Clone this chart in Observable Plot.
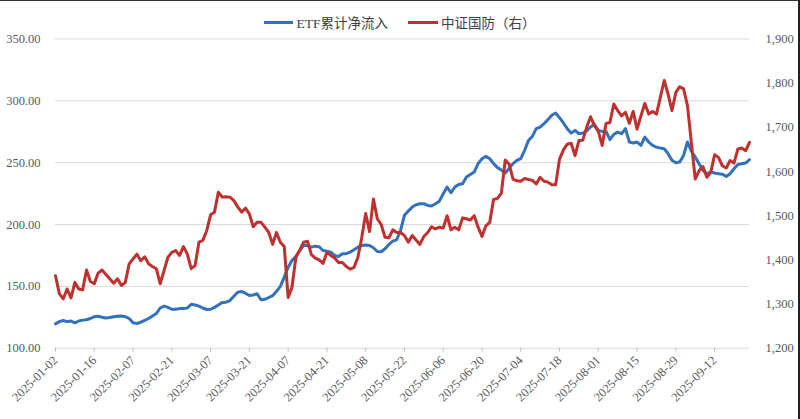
<!DOCTYPE html>
<html>
<head>
<meta charset="utf-8">
<script src="https://cdn.jsdelivr.net/npm/d3@7"></script>
<script src="https://cdn.jsdelivr.net/npm/@observablehq/plot@0.6"></script>
<style>
  html, body { margin: 0; padding: 0; background: #fff; }
  #wrap { position: relative; width: 800px; height: 419px; overflow: hidden; background: #fff; }
  #legend { height: 30px; display: flex; justify-content: center; align-items: flex-end; font-family: "Liberation Serif", "Noto Sans CJK SC", serif; font-size: 13.5px; color: #404040; }
  .item { display: flex; align-items: center; height: 16px; }
  .swatch { display: inline-block; height: 3px; }
  #border { position: absolute; left: 0; top: 0; width: 800px; height: 419px; box-sizing: border-box; border-top: 1px solid #333; border-right: 2px solid #222; pointer-events: none; }
</style>
</head>
<body>
<div id="wrap">
  <div id="legend"></div>
  <div id="chart"></div>
  <div id="border"></div>
</div>
<script>
// Series names and colours
const seriesNames = ["ETF累计净流入", "中证国防（右）"];
const seriesColors = ["#3371BD", "#C0302F"];

// X-axis tick labels (every 10th trading day)
const xTickLabels = ["2025-01-02","2025-01-16","2025-02-07","2025-02-21","2025-03-07","2025-03-21","2025-04-07","2025-04-21","2025-05-08","2025-05-22","2025-06-06","2025-06-20","2025-07-04","2025-07-18","2025-08-01","2025-08-15","2025-08-29","2025-09-12"];

// Axis ticks
const leftTicks = [100, 150, 200, 250, 300, 350];
const rightTicks = [1200, 1300, 1400, 1500, 1600, 1700, 1800, 1900];

// ETF cumulative net inflow (left axis), one value per trading day
const etfFlow = [
  119.7,121.5,122.4,121.5,122,120.5,122,122.7,123,124,
  125.5,125.8,125,124.4,124.8,125.4,125.8,126,125.5,124,
  120.5,120,121,122.5,124,126,128,132.5,134,133,
  131.5,131.5,132,132,132.5,135.5,135,134,132.5,131.3,
  131.5,133,135,137,137.2,138.5,142,145.3,145.8,144.5,
  142.6,143,144,139.2,139.5,141,142.5,146,150,157.4,
  165.5,171,174.2,179,183.1,183,181.7,182.5,182,179,
  178.5,177.7,175,174.2,176.4,176.4,177.7,179.6,181.7,183,
  183.5,183,181.2,178.2,178,180.4,183.9,186.6,187.7,195.2,
  207.4,210.9,214.1,216,216.8,216.8,215.4,215,216.8,218.9,
  224.9,230.3,225.7,230.3,232.4,232.9,238.4,240.5,242.4,249.2,
  253.2,255.1,253.2,249.2,246,244,241.6,245.4,249.2,251.8,
  253.2,260,268,271.3,277.5,278.8,281.5,284.8,288.3,290.1,
  286.4,282.1,277.5,273.9,276.1,273.4,273.9,275.6,278.8,281,
  276.1,275.3,275.3,268.6,272.9,274.8,273.4,277.5,266.7,265.9,
  266.7,264,270.7,266.7,264,262.6,261.8,261.3,257.3,251.9,
  250,250.5,255.9,266.7,259.4,254.5,249.2,243.8,241.1,242.4,
  241.6,241.1,240.6,238.9,241.1,245.1,248.6,249.2,249.7,252.4
];

// CSI Defense index (right axis)
const defenseIndex = [
  1364,1323,1312,1334,1314,1349,1334,1332,1377,1351,
  1346,1370,1377,1367,1357,1347,1357,1342,1349,1391,
  1402,1413,1398,1407,1391,1385,1380,1346,1376,1406,
  1417,1421,1410,1430,1413,1380,1387,1440,1444,1466,
  1502,1508,1553,1542,1543,1542,1534,1520,1508,1517,
  1504,1475,1485,1485,1474,1462,1435,1462,1440,1430,
  1315,1338,1406,1422,1440,1442,1412,1404,1400,1392,
  1417,1410,1404,1394,1394,1385,1379,1383,1406,1451,
  1505,1464,1538,1493,1480,1451,1450,1468,1462,1462,
  1455,1440,1455,1445,1435,1453,1462,1475,1470,1474,
  1472,1500,1468,1474,1468,1495,1493,1490,1500,1474,
  1453,1477,1485,1537,1539,1551,1626,1617,1583,1579,
  1578,1584,1582,1580,1572,1587,1578,1576,1570,1570,
  1628,1649,1662,1664,1636,1670,1671,1700,1724,1704,
  1691,1659,1709,1711,1753,1738,1726,1734,1709,1736,
  1696,1726,1754,1730,1736,1730,1768,1806,1775,1738,
  1779,1792,1787,1749,1666,1583,1602,1611,1587,1598,
  1638,1632,1613,1608,1625,1619,1651,1653,1647,1666
];

// Map right-axis values onto the left-axis scale
const L0 = leftTicks[0], L1 = leftTicks[leftTicks.length - 1];
const R0 = rightTicks[0], R1 = rightTicks[rightTicks.length - 1];
const toLeft = v => L0 + (v - R0) * (L1 - L0) / (R1 - R0);
const fromLeft = v => R0 + (v - L0) * (R1 - R0) / (L1 - L0);

const n = etfFlow.length;
const tickStep = 10;
const xTickIdx = xTickLabels.map((_, k) => k * tickStep);

// Legend
const legend = document.getElementById("legend");
seriesNames.forEach((name, k) => {
  const it = document.createElement("div");
  it.className = "item";
  it.style.marginLeft = k === 0 ? "0px" : "20px";
  const sw = document.createElement("span");
  sw.className = "swatch";
  sw.style.width = k === 0 ? "29px" : "30px";
  sw.style.background = seriesColors[k];
  sw.style.marginRight = "3px";
  const tx = document.createElement("span");
  tx.textContent = name;
  it.appendChild(sw);
  it.appendChild(tx);
  legend.appendChild(it);
});

const etfData = etfFlow.map((v, i) => ({i, v}));
const defData = defenseIndex.map((v, i) => ({i, v: toLeft(v)}));

const chart = Plot.plot({
  width: 800,
  height: 389,
  marginLeft: 55,
  marginRight: 51,
  marginTop: 8.5,
  marginBottom: 71.3,
  x: {domain: [0, n - 1], axis: null},
  y: {domain: [L0, L1], axis: null},
  style: {fontFamily: "'Liberation Serif', serif", fontSize: "12.5px", color: "#595959", background: "#fff"},
  marks: [
    Plot.gridY(leftTicks, {stroke: "#d9d9d9", strokeOpacity: 1, strokeWidth: 1}),
    Plot.axisY(leftTicks, {anchor: "left", label: null, tickSize: 0, tickPadding: 15, tickFormat: d3.format(".2f"), fill: "#595959"}),
    Plot.axisY(rightTicks.map(toLeft), {anchor: "right", label: null, tickSize: 0, tickPadding: 16, tickFormat: d => d3.format(",")(Math.round(fromLeft(d))), fill: "#595959"}),
    Plot.axisX(xTickIdx, {anchor: "bottom", label: null, tickSize: 4, stroke: "#bfbfbf", tickRotate: -45, tickPadding: 6, tickFormat: d => xTickLabels[xTickIdx.indexOf(d)], fill: "#595959"}),
    Plot.lineY(etfData, {x: "i", y: "v", stroke: seriesColors[0], strokeWidth: 3}),
    Plot.lineY(defData, {x: "i", y: "v", stroke: seriesColors[1], strokeWidth: 3})
  ]
});
document.getElementById("chart").appendChild(chart);
</script>
</body>
</html>
